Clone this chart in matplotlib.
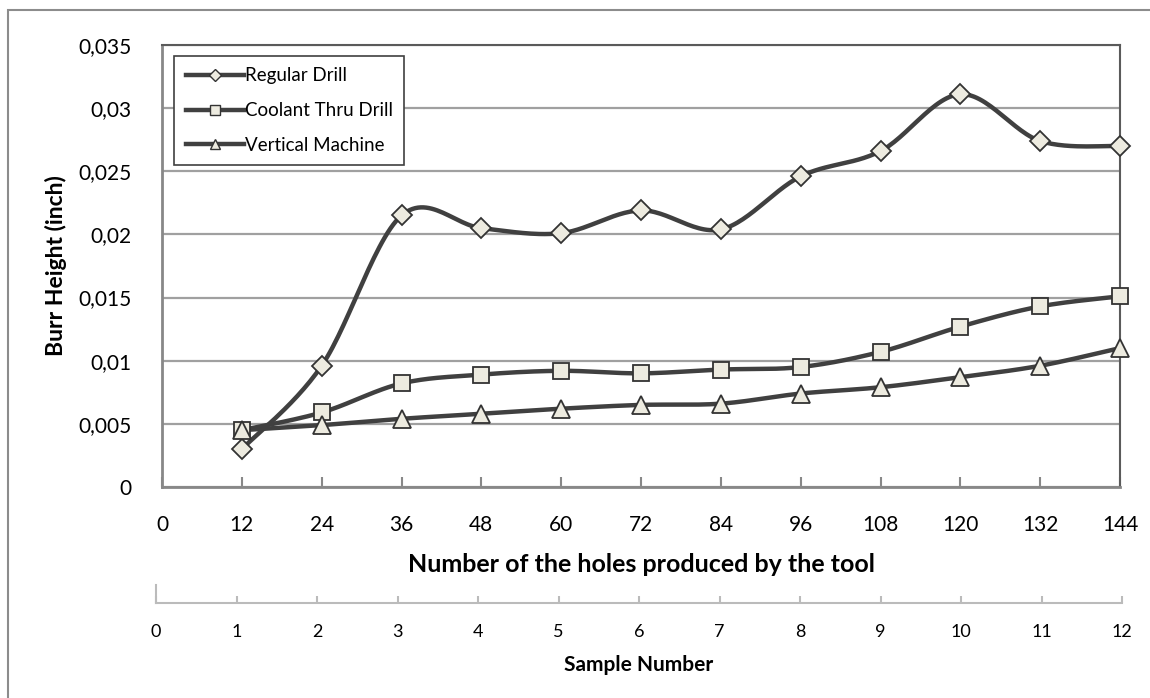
import numpy as np
import matplotlib
matplotlib.use("Agg")
import matplotlib.pyplot as plt
from matplotlib.lines import Line2D
from matplotlib.patches import Rectangle

plt.rcParams['font.family'] = ['Lato', 'DejaVu Sans']

holes = [12, 24, 36, 48, 60, 72, 84, 96, 108, 120, 132, 144]
regular_drill = [0.0030, 0.0096, 0.0215, 0.0205, 0.0201, 0.0219, 0.0204, 0.0246, 0.0266, 0.0311, 0.0274, 0.0270]
coolant_drill = [0.0045, 0.0059, 0.0082, 0.0089, 0.0092, 0.0090, 0.0093, 0.0095, 0.0107, 0.0127, 0.0143, 0.0151]
vertical_machine = [0.0045, 0.0049, 0.0054, 0.0058, 0.0062, 0.0065, 0.0066, 0.0074, 0.0079, 0.0087, 0.0096, 0.0110]
series_names = ['Regular Drill', 'Coolant Thru Drill', 'Vertical Machine']
markers = ['D', 's', '^']
marker_sizes = [10, 12, 13]

x_ticks = [0, 12, 24, 36, 48, 60, 72, 84, 96, 108, 120, 132, 144]
y_ticks = [0, 0.005, 0.01, 0.015, 0.02, 0.025, 0.03, 0.035]
y_tick_labels = ['0', '0,005', '0,01', '0,015', '0,02', '0,025', '0,03', '0,035']
samples = list(range(13))

LINE = '#404040'
FACE = '#edebe0'


def smooth(x, y, n=30):
    # excel style smoothed line: bezier with control points from neighbours
    x = np.asarray(x, float)
    y = np.asarray(y, float)
    px = np.concatenate([[x[0]], x, [x[-1]]])
    py = np.concatenate([[y[0]], y, [y[-1]]])
    xs, ys = [], []
    t = np.linspace(0, 1, n)
    for i in range(1, len(px) - 2):
        p0 = np.array([px[i], py[i]])
        p3 = np.array([px[i + 1], py[i + 1]])
        p1 = p0 + (np.array([px[i + 1], py[i + 1]]) - np.array([px[i - 1], py[i - 1]])) / 6
        p2 = p3 - (np.array([px[i + 2], py[i + 2]]) - np.array([px[i], py[i]])) / 6
        pts = ((1 - t) ** 3)[:, None] * p0 + (3 * (1 - t) ** 2 * t)[:, None] * p1 \
            + (3 * (1 - t) * t ** 2)[:, None] * p2 + (t ** 3)[:, None] * p3
        xs.extend(pts[:, 0])
        ys.extend(pts[:, 1])
    return xs, ys


fig = plt.figure(figsize=(11.5, 6.98), dpi=100)

# outer chart border (only left and top edges visible)
fig.patches.append(Rectangle((8 / 1150, -0.1), 1.2, (698 - 10) / 698 + 0.1,
                             transform=fig.transFigure, fill=False,
                             edgecolor='#8c8c8c', linewidth=1.5))

ax = fig.add_axes([162 / 1150, 1 - 487 / 698, (1120 - 162) / 1150, (487 - 45) / 698])

handles = []
for vals, name, mk, ms in zip([regular_drill, coolant_drill, vertical_machine],
                              series_names, markers, marker_sizes):
    sx, sy = smooth(holes, vals)
    ax.plot(sx, sy, color=LINE, linewidth=3.2, solid_capstyle='round', zorder=3, clip_on=False)
    ax.plot(holes, vals, linestyle='none', marker=mk, markersize=ms,
            markerfacecolor=FACE, markeredgecolor='#333333', markeredgewidth=1.3,
            zorder=4, clip_on=False)
    handles.append(Line2D([], [], color=LINE, linewidth=3.2, marker=mk, markersize=ms * 0.6,
                          markerfacecolor=FACE, markeredgecolor='#333333', markeredgewidth=1.0))

ax.set_xlim(0, 144)
ax.set_ylim(0, 0.035)
ax.set_xticks(x_ticks)
ax.set_yticks(y_ticks)
ax.set_yticklabels(y_tick_labels)
ax.grid(axis='y', color='#a0a0a0', linewidth=1.6)
ax.set_axisbelow(True)
ax.tick_params(axis='x', direction='in', length=7, width=1.5, color='#888888',
               labelsize=15, pad=20)
ax.tick_params(axis='y', direction='in', length=0, labelsize=15, pad=22)
for s in ['left', 'bottom']:
    ax.spines[s].set_color('#888888')
    ax.spines[s].set_linewidth(2)
for s in ['top', 'right']:
    ax.spines[s].set_color('#5a5a5a')
    ax.spines[s].set_linewidth(1.5)

ax.set_xlabel('Number of the holes produced by the tool', fontsize=18,
              fontweight='bold', labelpad=13)
ax.set_ylabel('Burr Height (inch)', fontsize=16.5, fontweight='bold', labelpad=8)

leg = ax.legend(handles, series_names, loc='upper left', bbox_to_anchor=(0.013, 0.975),
                fontsize=13.5, handlelength=3.1, handletextpad=0.05, borderpad=0.6,
                labelspacing=0.95, fancybox=False, framealpha=1, borderaxespad=0)
leg.get_frame().set_edgecolor('#404040')
leg.get_frame().set_linewidth(1.2)

# secondary axis for sample number
ax2 = fig.add_axes([156 / 1150, 1 - 603 / 698, (1122 - 156) / 1150, 0.0001])
ax2.set_xlim(0, 12)
ax2.set_xticks(samples)
ax2.set_yticks([])
for s in ['left', 'right', 'top']:
    ax2.spines[s].set_visible(False)
ax2.spines['bottom'].set_color('#bbbbbb')
ax2.spines['bottom'].set_linewidth(1.5)
ax2.patch.set_visible(False)
ax2.tick_params(axis='x', direction='in', length=5, width=1.5, color='#bbbbbb',
                labelsize=13, pad=15)
ax2.set_xlabel('Sample Number', fontsize=15, fontweight='bold', labelpad=11)
fig.add_artist(Line2D([156 / 1150, 156 / 1150], [1 - 603 / 698, 1 - 585 / 698],
                      transform=fig.transFigure, color='#bbbbbb', linewidth=1.5))

fig.savefig('out.png', dpi=100)
